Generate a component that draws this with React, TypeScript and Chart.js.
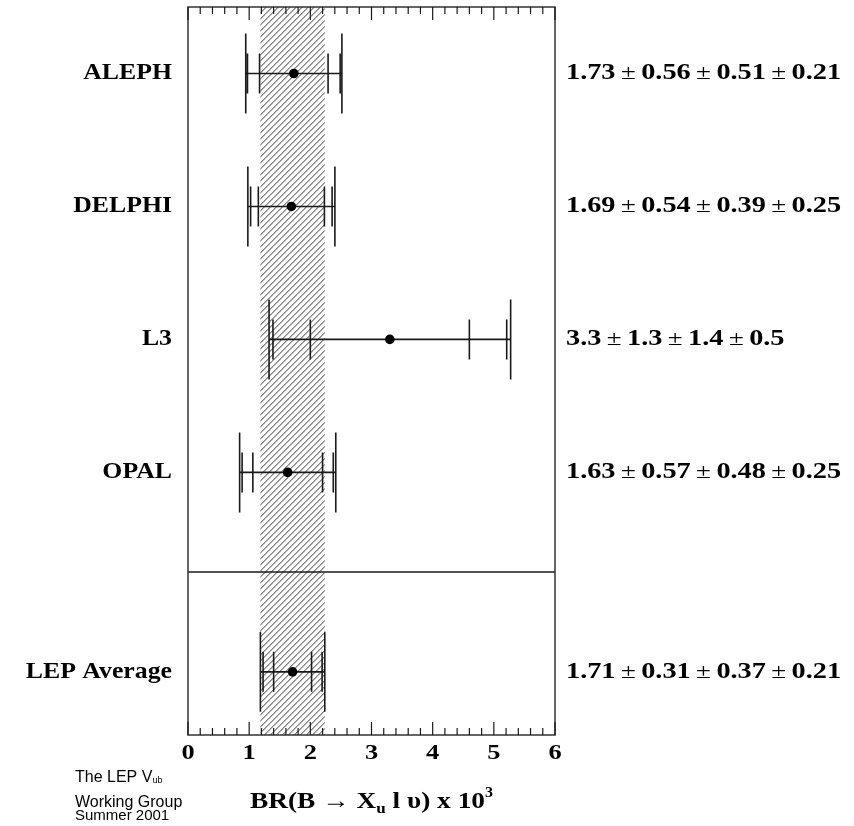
import React, { useEffect, useRef } from "react";
import { Chart, registerables } from "chart.js";

Chart.register(...registerables);

// ---- data ----
const categories = ["ALEPH", "DELPHI", "L3", "OPAL", "LEP Average"];
const central = [1.73, 1.69, 3.3, 1.63, 1.71];
const statErr = [0.56, 0.54, 1.3, 0.57, 0.31];
const systErr = [0.51, 0.39, 1.4, 0.48, 0.37];
const theoErr = [0.21, 0.25, 0.5, 0.25, 0.21];
const decimals = [2, 2, 1, 2, 2];
const rowPos = [0.5, 1.5, 2.5, 3.5, 5.0];
const separatorPos = 4.25;
const averageIndex = 4;
const xTickLabels = [0, 1, 2, 3, 4, 5, 6];
const xMinorStep = 0.2;
const xMin = 0;
const xMax = 6;
const yMin = 0;
const yMax = 5.475;

// ---- style ----
const INK = "#1a1a1a";
const SERIF = '"Liberation Serif", "Times New Roman", serif';
const SANS = '"Liberation Sans", Arial, sans-serif';
const TEXT_SX = 1.23;

function drawStretched(
  ctx: CanvasRenderingContext2D,
  text: string,
  x: number,
  y: number,
  font: string,
  sx: number,
  align: "left" | "right" | "center" = "left"
) {
  ctx.save();
  ctx.font = font;
  const w = ctx.measureText(text).width * sx;
  const left = align === "right" ? x - w : align === "center" ? x - w / 2 : x;
  ctx.translate(left, y);
  ctx.scale(sx, 1);
  ctx.textAlign = "left";
  ctx.textBaseline = "middle";
  ctx.fillText(text, 0, 0);
  ctx.restore();
  return w;
}

type Seg = { t: string; font: string; dy?: number };
function drawSegs(
  ctx: CanvasRenderingContext2D,
  segs: Seg[],
  x: number,
  y: number,
  sx: number
) {
  let cx = x;
  for (const s of segs) {
    cx += drawStretched(ctx, s.t, cx, y + (s.dy || 0), s.font, sx, "left");
  }
}

const totalErr = (i: number) =>
  Math.sqrt(statErr[i] ** 2 + systErr[i] ** 2 + theoErr[i] ** 2);
const expErr = (i: number) => Math.sqrt(statErr[i] ** 2 + systErr[i] ** 2);

const lepPlugin = {
  id: "lepPlugin",
  beforeDatasetsDraw(chart: any) {
    const ctx: CanvasRenderingContext2D = chart.ctx;
    const xs = chart.scales.x;
    const ys = chart.scales.y;
    const { left, right, top, bottom } = chart.chartArea;

    // hatched band = LEP average total error
    const a = averageIndex;
    const xl = xs.getPixelForValue(central[a] - totalErr(a));
    const xr = xs.getPixelForValue(central[a] + totalErr(a));
    ctx.save();
    ctx.beginPath();
    ctx.rect(xl, top, xr - xl, bottom - top);
    ctx.clip();
    ctx.strokeStyle = "#222";
    ctx.lineWidth = 0.9;
    const H = bottom - top;
    ctx.beginPath();
    for (let k = xl - H - 6; k < xr + 6; k += 6) {
      ctx.moveTo(k, bottom);
      ctx.lineTo(k + H, top);
    }
    ctx.stroke();
    ctx.restore();

    // separator
    ctx.save();
    ctx.strokeStyle = INK;
    ctx.lineWidth = 1.5;
    const ysep = ys.getPixelForValue(separatorPos);
    ctx.beginPath();
    ctx.moveTo(left, ysep);
    ctx.lineTo(right, ysep);
    ctx.stroke();

    // error bars
    ctx.lineWidth = 1.6;
    for (let i = 0; i < central.length; i++) {
      const y = ys.getPixelForValue(rowPos[i]);
      const c = central[i];
      const t = totalErr(i);
      const e = expErr(i);
      const s = statErr[i];
      ctx.beginPath();
      ctx.moveTo(xs.getPixelForValue(c - t), y);
      ctx.lineTo(xs.getPixelForValue(c + t), y);
      const vtick = (v: number, h: number) => {
        const px = xs.getPixelForValue(v);
        ctx.moveTo(px, y - h);
        ctx.lineTo(px, y + h);
      };
      vtick(c - t, 40);
      vtick(c + t, 40);
      vtick(c - e, 20);
      vtick(c + e, 20);
      vtick(c - s, 20);
      vtick(c + s, 20);
      ctx.stroke();
    }
    ctx.restore();
  },
  afterDatasetsDraw(chart: any) {
    const ctx: CanvasRenderingContext2D = chart.ctx;
    const xs = chart.scales.x;
    const ys = chart.scales.y;
    const { left, right, top, bottom } = chart.chartArea;

    ctx.save();
    // frame
    ctx.strokeStyle = "#333";
    ctx.lineWidth = 1.5;
    ctx.strokeRect(left, top, right - left, bottom - top);

    // ticks (inward, top and bottom)
    ctx.lineWidth = 1.2;
    ctx.strokeStyle = INK;
    ctx.beginPath();
    const nMinor = Math.round((xMax - xMin) / xMinorStep);
    for (let k = 0; k <= nMinor; k++) {
      const v = xMin + k * xMinorStep;
      const major = Math.abs(v - Math.round(v)) < 1e-6;
      const len = major ? 13 : 7;
      const px = xs.getPixelForValue(v);
      ctx.moveTo(px, bottom);
      ctx.lineTo(px, bottom - len);
      ctx.moveTo(px, top);
      ctx.lineTo(px, top + len);
    }
    ctx.stroke();

    // tick labels
    ctx.fillStyle = "#000";
    for (const v of xTickLabels) {
      drawStretched(
        ctx,
        String(v),
        xs.getPixelForValue(v),
        bottom + 18,
        `bold 22px ${SERIF}`,
        1.2,
        "center"
      );
    }

    // left labels and right values
    for (let i = 0; i < categories.length; i++) {
      const y = ys.getPixelForValue(rowPos[i]);
      drawStretched(
        ctx,
        categories[i],
        172,
        y,
        `bold 23px ${SERIF}`,
        1.12,
        "right"
      );
      const d = decimals[i];
      const bf = `bold 23px ${SERIF}`;
      const nf = `22px ${SERIF}`;
      const pm = "\u2009\u00b1\u2009";
      const segs: Seg[] = [
        { t: central[i].toFixed(d), font: bf },
        { t: pm, font: nf },
        { t: statErr[i].toFixed(d), font: bf },
        { t: pm, font: nf },
        { t: systErr[i].toFixed(d), font: bf },
        { t: pm, font: nf },
        { t: theoErr[i].toFixed(d), font: bf },
      ];
      drawSegs(ctx, segs, 566, y, TEXT_SX);
    }

    // axis title
    const tb = `bold 24px ${SERIF}`;
    const tn = `24px ${SERIF}`;
    const title: Seg[] = [
      { t: "BR(B ", font: tb },
      { t: "\u2192", font: tn },
      { t: " X", font: tb },
      { t: "u", font: `bold 15px ${SERIF}`, dy: 7 },
      { t: " l \u03c5) x 10", font: tb },
      { t: "3", font: `bold 14px ${SERIF}`, dy: -9 },
    ];
    drawSegs(ctx, title, 250, 802, 1.14);

    // footer
    drawSegs(
      ctx,
      [
        { t: "The LEP V", font: `16px ${SANS}` },
        { t: "ub", font: `9px ${SANS}`, dy: 3 },
      ],
      75,
      778,
      1.0
    );
    drawStretched(ctx, "Working Group", 75, 803, `16px ${SANS}`, 1.0, "left");
    drawStretched(ctx, "Summer 2001", 75, 816, `15px ${SANS}`, 1.0, "left");
    ctx.restore();
  },
};

export default function App() {
  const ref = useRef<HTMLCanvasElement | null>(null);
  useEffect(() => {
    document.body.style.margin = "0";
    const canvas = ref.current!;
    const chart = new Chart(canvas, {
      type: "scatter",
      data: {
        datasets: [
          {
            data: central.map((v, i) => ({ x: v, y: rowPos[i] })),
            pointRadius: 4.8,
            pointHoverRadius: 4.8,
            backgroundColor: "#000",
            borderColor: "#000",
            borderWidth: 0,
          },
        ],
      },
      options: {
        animation: false,
        responsive: false,
        devicePixelRatio: 1,
        layout: { padding: { left: 188, right: 299, top: 7, bottom: 91 } },
        scales: {
          x: { type: "linear", min: xMin, max: xMax, display: false },
          y: { type: "linear", min: yMin, max: yMax, reverse: true, display: false },
        },
        plugins: { legend: { display: false }, tooltip: { enabled: false } },
      },
      plugins: [lepPlugin],
    } as any);
    return () => chart.destroy();
  }, []);
  return (
    <div style={{ background: "#fff", width: 854, height: 826 }}>
      <canvas ref={ref} width={854} height={826} style={{ display: "block", width: 854, height: 826 }} />
    </div>
  );
}
